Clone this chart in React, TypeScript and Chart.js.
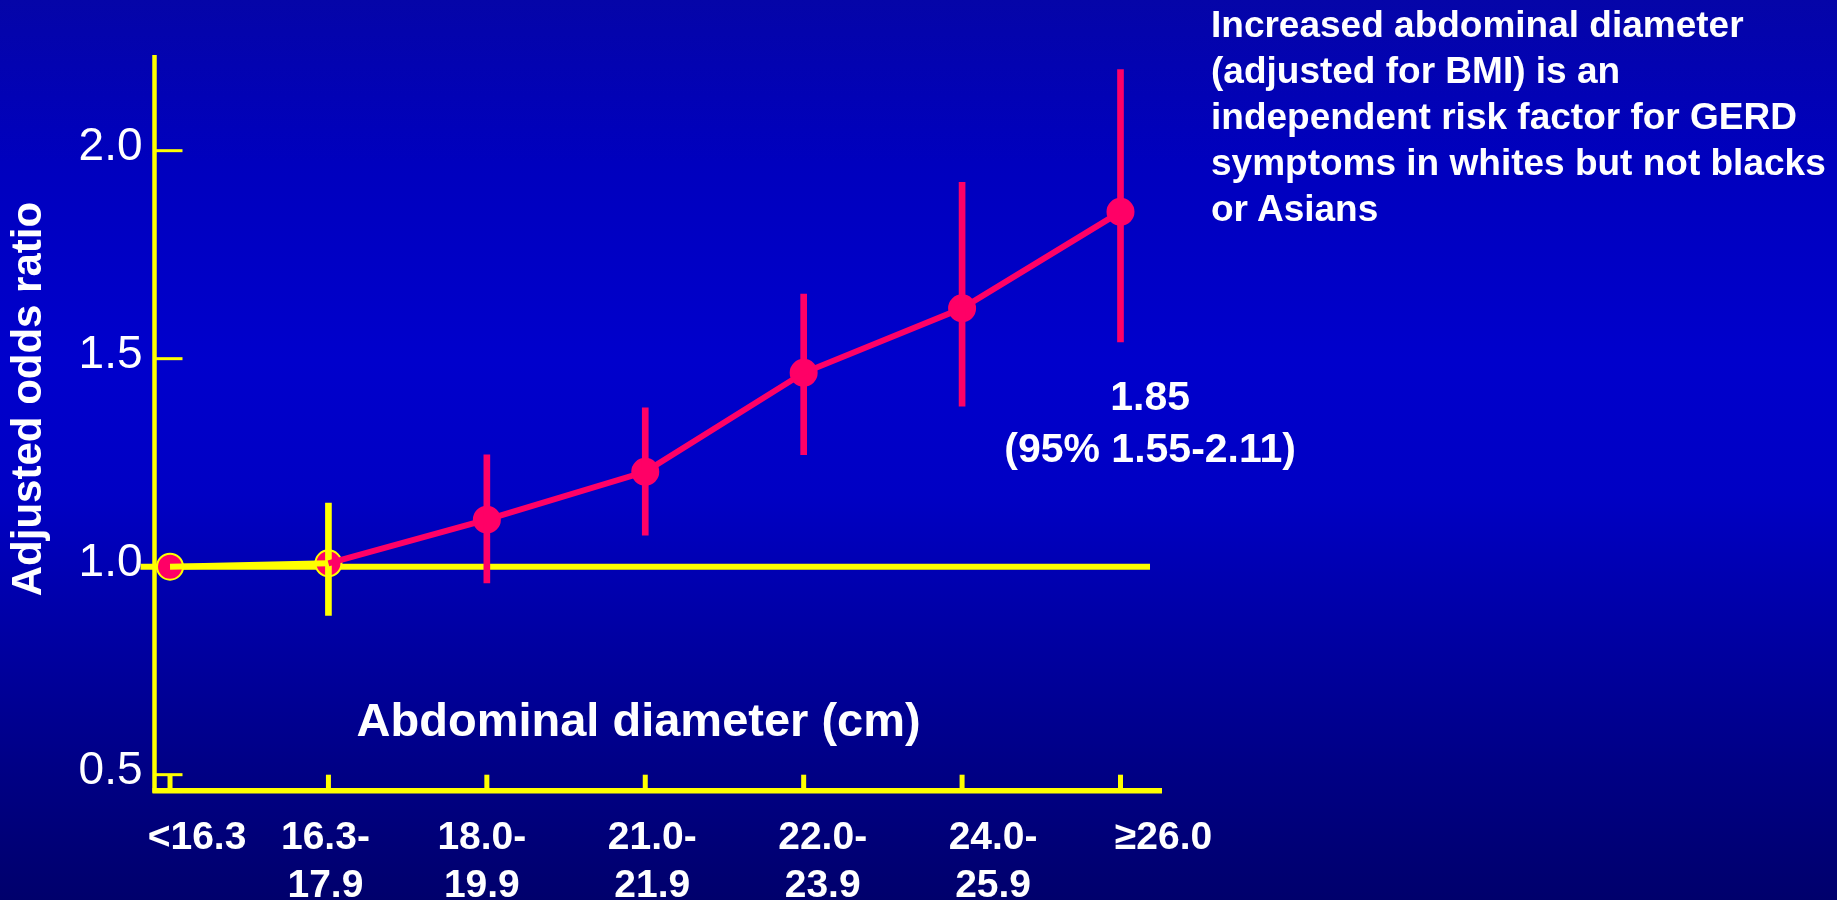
import React, { useEffect, useRef } from "react";
import { Chart, registerables } from "chart.js";

Chart.register(...registerables);

// ---------- data ----------
const categories: string[][] = [
  ["<16.3"],
  ["16.3-", "17.9"],
  ["18.0-", "19.9"],
  ["21.0-", "21.9"],
  ["22.0-", "23.9"],
  ["24.0-", "25.9"],
  ["≥26.0"],
];
const oddsRatio = [1.0, 1.008, 1.113, 1.228, 1.466, 1.621, 1.853];
const ciLower: (number | null)[] = [null, 0.883, 0.961, 1.076, 1.269, 1.386, 1.54];
const ciUpper: (number | null)[] = [null, 1.153, 1.269, 1.382, 1.655, 1.924, 2.195];
const yTickValues = [0.5, 1.0, 1.5, 2.0];
const yTickLabels = ["0.5", "1.0", "1.5", "2.0"];
const referenceValue = 1.0;
const yTitle = "Adjusted odds ratio";
const xTitle = "Abdominal diameter (cm)";
const annotationLines = ["1.85", "(95% 1.55-2.11)"];
const noteLines = [
  "Increased abdominal diameter",
  "(adjusted for BMI) is an",
  "independent risk factor for GERD",
  "symptoms in whites but not blacks",
  "or Asians",
];

// ---------- style ----------
const PINK = "#FF0066";
const YELLOW = "#FFFF00";
const WHITE = "#FFFFFF";
const FONT = "'Liberation Sans', Arial, Helvetica, sans-serif";

const W = 1837;
const H = 900;

const decorPlugin = {
  id: "decor",
  beforeDatasetsDraw(chart: any) {
    const { ctx, chartArea } = chart;
    const xs = chart.scales.x;
    const ys = chart.scales.y;
    ctx.save();
    // reference line at OR = 1.0
    const yRef = ys.getPixelForValue(referenceValue);
    ctx.strokeStyle = YELLOW;
    ctx.lineWidth = 6;
    ctx.beginPath();
    ctx.moveTo(chartArea.left - 14, yRef);
    ctx.lineTo(chartArea.right - 12, yRef);
    ctx.stroke();

    // y axis line
    ctx.lineWidth = 4.5;
    ctx.beginPath();
    ctx.moveTo(chartArea.left, chartArea.top);
    ctx.lineTo(chartArea.left, chartArea.bottom + 2);
    ctx.stroke();
    // x axis line
    ctx.lineWidth = 5.5;
    ctx.beginPath();
    ctx.moveTo(chartArea.left - 2, chartArea.bottom);
    ctx.lineTo(chartArea.right, chartArea.bottom);
    ctx.stroke();

    // y ticks (inward)
    ctx.lineWidth = 3;
    yTickValues.forEach((v) => {
      const y = ys.getPixelForValue(v);
      ctx.beginPath();
      ctx.moveTo(chartArea.left, y);
      ctx.lineTo(chartArea.left + 28, y);
      ctx.stroke();
    });
    // x ticks (upward)
    ctx.lineWidth = 5;
    categories.forEach((_, i) => {
      const x = xs.getPixelForValue(i);
      ctx.beginPath();
      ctx.moveTo(x, chartArea.bottom);
      ctx.lineTo(x, chartArea.bottom - 16);
      ctx.stroke();
    });
    ctx.restore();
  },
  afterDraw(chart: any) {
    const { ctx, chartArea } = chart;
    const xs = chart.scales.x;
    const ys = chart.scales.y;
    const o = chart.options.plugins.decor;
    ctx.save();
    ctx.fillStyle = WHITE;
    ctx.textBaseline = "alphabetic";

    // y tick labels
    ctx.font = `46px ${FONT}`;
    ctx.textAlign = "right";
    yTickValues.forEach((v, i) => {
      ctx.fillText(yTickLabels[i], chartArea.left - 12, ys.getPixelForValue(v) + 9);
    });

    // x tick labels
    ctx.font = `bold 39px ${FONT}`;
    ctx.textAlign = "center";
    categories.forEach((lines, i) => {
      const x = xs.getPixelForValue(i) + o.xLabelShift[i];
      lines.forEach((t, j) => {
        ctx.fillText(t, x, chartArea.bottom + 58 + j * 48);
      });
    });

    // y title
    ctx.save();
    ctx.font = `bold 42px ${FONT}`;
    ctx.textAlign = "center";
    ctx.textBaseline = "middle";
    ctx.translate(29, ys.getPixelForValue(o.yTitleAt));
    ctx.rotate(-Math.PI / 2);
    ctx.fillText(yTitle, 0, 0);
    ctx.restore();

    // x title (inside plot)
    ctx.font = `bold 47px ${FONT}`;
    ctx.textAlign = "center";
    ctx.fillText(xTitle, xs.getPixelForValue(o.xTitleAt.x), ys.getPixelForValue(o.xTitleAt.y));

    // annotation for last point
    ctx.font = `bold 41px ${FONT}`;
    const ax = xs.getPixelForValue(o.annotationAt.x);
    const ay = ys.getPixelForValue(o.annotationAt.y);
    annotationLines.forEach((t, j) => ctx.fillText(t, ax, ay + j * 52));

    ctx.restore();
  },
};

export default function App() {
  const canvasRef = useRef<HTMLCanvasElement | null>(null);

  useEffect(() => {
    const canvas = canvasRef.current;
    if (!canvas) return;

    const points = oddsRatio.map((v, i) => ({ x: i, y: v }));
    const bars: any[] = [];
    const barColors: string[] = [];
    categories.forEach((_, i) => {
      if (ciLower[i] != null && ciUpper[i] != null) {
        bars.push({ x: i, y: [ciLower[i], ciUpper[i]] });
        barColors.push(i === 1 ? YELLOW : PINK);
      }
    });

    const chart = new Chart(canvas, {
      type: "line",
      data: {
        datasets: [
          {
            type: "line",
            label: "markers",
            data: points,
            showLine: false,
            pointRadius: 13,
            pointHoverRadius: 13,
            pointBackgroundColor: PINK,
            pointBorderColor: oddsRatio.map((_, i) => (i < 2 ? YELLOW : PINK)),
            pointBorderWidth: 2,
            order: 3,
            clip: false,
          } as any,
          {
            type: "bar",
            label: "95% CI",
            data: bars,
            backgroundColor: barColors,
            borderWidth: 0,
            barThickness: 6,
            grouped: false,
            order: 2,
          } as any,
          {
            type: "line",
            label: "Adjusted odds ratio",
            data: points,
            borderColor: PINK,
            borderWidth: 6,
            pointRadius: 0,
            tension: 0,
            segment: {
              borderColor: (c: any) => (c.p0DataIndex === 0 ? YELLOW : undefined),
            },
            order: 1,
            clip: false,
          } as any,
        ],
      },
      options: {
        animation: false,
        responsive: false,
        maintainAspectRatio: false,
        events: [],
        layout: {
          padding: { left: 154.5, top: 55, right: W - 1162, bottom: H - 790.7 },
        },
        plugins: {
          legend: { display: false },
          tooltip: { enabled: false },
          title: { display: false },
          decor: {
            xLabelShift: [27, -3, -5, 7, 19, 31, 43],
            yTitleAt: 1.403,
            xTitleAt: { x: 2.958, y: 0.593 },
            annotationAt: { x: 6.187, y: 1.377 },
          },
        } as any,
        scales: {
          x: {
            type: "linear",
            display: false,
            min: -0.098,
            max: 6.262,
            offset: false,
            grid: { display: false },
          },
          y: {
            type: "linear",
            display: false,
            min: 0.4615,
            max: 2.23,
            grid: { display: false },
          },
        },
      },
      plugins: [decorPlugin],
    });

    return () => chart.destroy();
  }, []);

  return (
    <div
      style={{
        position: "fixed",
        left: 0,
        top: 0,
        width: W,
        height: H,
        overflow: "hidden",
        background:
          "linear-gradient(to bottom, #0505A8 0%, #0000BE 18%, #0000CC 40%, #0000C4 55%, #0000A0 72%, #000084 86%, #00006C 100%)",
      }}
    >
      <canvas ref={canvasRef} width={W} height={H} style={{ position: "absolute", left: 0, top: 0 }} />
      <div
        style={{
          position: "absolute",
          left: 1211,
          top: 2,
          color: WHITE,
          fontFamily: FONT,
          fontWeight: "bold",
          fontSize: 37,
          lineHeight: "46px",
          whiteSpace: "pre",
        }}
      >
        {noteLines.map((t, i) => (
          <div key={i}>{t}</div>
        ))}
      </div>
    </div>
  );
}
